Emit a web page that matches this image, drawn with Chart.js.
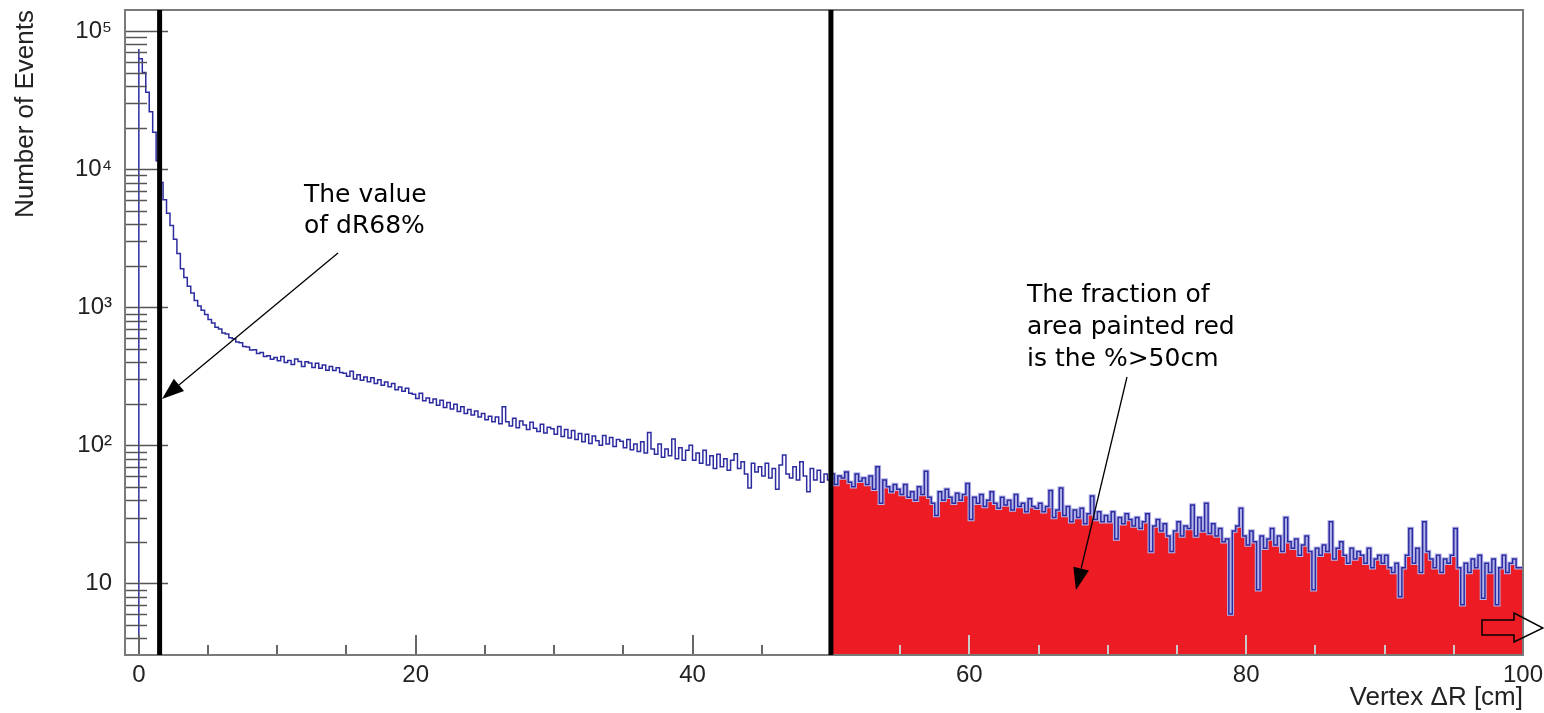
<!DOCTYPE html>
<html><head><meta charset="utf-8">
<script src="https://cdn.jsdelivr.net/npm/chart.js@4.4.1/dist/chart.umd.min.js"></script>
<style>html,body{margin:0;padding:0;background:#fff;}#wrap{width:1544px;height:713px;}</style>
</head><body><div id="wrap"><canvas id="c" width="1544" height="713"></canvas></div>
<script>
// ---- data ----
const binStart = 0;        // cm, low edge of first bin
const binWidth = 0.25;     // cm
const counts = [
 74000,63000,50000,36000,26000,18500,11500,8000,6000,4800,3900,3100,2450,1900,1640,1420,1270,1120,1020,950,
 885,815,770,715,695,650,640,600,592,560,552,520,515,490,492,462,470,440,445,420,
 432,410,440,398,412,385,422,404,372,402,394,366,392,362,382,350,372,348,364,336,
 333,316,344,302,324,296,312,288,308,280,298,272,287,266,280,252,264,246,259,238,
 234,218,238,210,220,203,216,195,212,188,204,183,198,176,190,170,182,166,177,160,
 170,153,162,148,160,143,190,148,138,157,134,150,140,130,147,133,126,142,123,135,
 132,120,137,116,130,113,128,110,122,106,120,103,117,108,100,118,102,114,98,110,
 107,96,110,93,102,90,106,88,124,94,86,102,82,94,84,111,80,96,78,92,
 100,78,88,74,92,72,84,68,86,70,80,66,78,87,68,76,62,49,74,64,
 70,60,74,58,68,48,72,85,62,58,70,56,76,60,46,68,56,66,54,62,
 56,62,52,60,58,64,54,50,62,55,58,52,60,48,70,38,56,50,46,52,
 48,44,52,42,46,40,50,44,65,42,38,31,46,40,48,42,38,45,40,44,
 53,29,42,38,44,36,40,46,38,35,42,37,40,34,44,36,38,33,41,36,
 35,38,33,36,47,30,34,49,31,36,28,34,30,35,27,32,43,29,33,28,
 31,28,33,21,30,27,32,29,26,30,25,28,32,17,26,29,24,27,22,17,
 24,28,22,26,25,37,22,30,24,38,23,27,22,25,20,21,6,24,26,35,
 22,19,24,20,9,22,18,21,25,19,22,17,30,20,18,21,16,19,22,17,
 9,18,16,19,17,28,15,18,20,16,14,18,15,17,16,14,18,13,15,16,
 14,16,13,12,14,8,13,16,25,14,18,12,28,17,15,13,16,12,15,14,
 16,25,13,7,14,12,15,13,16,7.8,14,12,15,7,13,16,12,14,15,13
];
const emptyLevel = 0.001;           // histogram rises from an empty level (below axis)
const xTickValues = [0,20,40,60,80,100];
const yTickValues = [10,100,1000,10000,100000];
const yTickLabels = ['10','10\u00B2','10\u00B3','10\u2074','10\u2075'];
const xRange = [-1, 100];
const yRange = [3.03, 142000];
const dR68 = 1.5;
const cutValue = 50;
const xTitle = 'Vertex \u0394R [cm]';
const yTitle = 'Number of Events';
const note1 = ['The value','of dR68%'];
const note2 = ['The fraction of','area painted red','is the %>50cm'];

// ---- build histogram points ----
const histPts = [{x: binStart, y: emptyLevel}];
counts.forEach((v,i)=>histPts.push({x: binStart + i*binWidth, y: v}));
histPts.push({x: binStart + counts.length*binWidth, y: counts[counts.length-1]});
const tailPts = histPts.filter(p => p.x >= cutValue && p.y > emptyLevel);

const FONT = '"Liberation Sans", Arial, Helvetica, sans-serif';
const NOTEFONT = '"Comic Sans MS", "DejaVu Sans", sans-serif';

const overlay = {
  id: 'overlay',
  afterDatasetsDraw(chart) {
    const ctx = chart.ctx, ca = chart.chartArea, xs = chart.scales.x, ys = chart.scales.y;
    ctx.save();
    // y ticks (inside frame)
    ctx.strokeStyle = '#555'; ctx.lineWidth = 1.5;
    for (let d = 0; d <= 5; d++) {
      for (let m = 1; m <= 9; m++) {
        const v = m * Math.pow(10, d);
        if (v < ys.min || v > ys.max) continue;
        const py = Math.round(ys.getPixelForValue(v)) + 0.5;
        const len = m === 1 ? 43 : 22;
        ctx.beginPath(); ctx.moveTo(ca.left, py); ctx.lineTo(ca.left + len, py); ctx.stroke();
      }
    }
    // x ticks (inside frame)
    ctx.lineWidth = 2;
    for (let v = 0; v <= 100; v += 5) {
      const px = Math.round(xs.getPixelForValue(v));
      const len = v % 20 === 0 ? 20 : 10;
      ctx.strokeStyle = v > cutValue ? '#c8c8c8' : '#666';
      ctx.beginPath(); ctx.moveTo(px, ca.bottom); ctx.lineTo(px, ca.bottom - len); ctx.stroke();
    }
    // frame
    ctx.strokeStyle = '#7a7a7a'; ctx.lineWidth = 2;
    ctx.strokeRect(ca.left, ca.top, ca.right - ca.left, ca.bottom - ca.top);
    // thick black vertical lines
    ctx.strokeStyle = '#000'; ctx.lineWidth = 5;
    [dR68, cutValue].forEach(v => {
      const px = xs.getPixelForValue(v);
      ctx.beginPath(); ctx.moveTo(px, ca.top); ctx.lineTo(px, ca.bottom); ctx.stroke();
    });
    // arrows
    function arrow(x1, y1, x2, y2) {
      const a = Math.atan2(y2 - y1, x2 - x1), L = 22, W = 8;
      const bx = x2 - L * Math.cos(a), by = y2 - L * Math.sin(a);
      ctx.strokeStyle = '#000'; ctx.lineWidth = 1.3;
      ctx.beginPath(); ctx.moveTo(x1, y1); ctx.lineTo(bx, by); ctx.stroke();
      ctx.fillStyle = '#000';
      ctx.beginPath(); ctx.moveTo(x2, y2);
      ctx.lineTo(bx + W * Math.sin(a), by - W * Math.cos(a));
      ctx.lineTo(bx - W * Math.sin(a), by + W * Math.cos(a));
      ctx.closePath(); ctx.fill();
    }
    arrow(338, 253, 162, 399);
    arrow(1127, 377, 1076, 590);
    // notes
    ctx.fillStyle = '#000'; ctx.font = '25px ' + NOTEFONT; ctx.textAlign = 'left'; ctx.textBaseline = 'alphabetic';
    note1.forEach((t, i) => ctx.fillText(t, 304, 202 + i * 31));
    note2.forEach((t, i) => ctx.fillText(t, 1027, 302 + i * 32));
    // hollow block arrow
    ctx.strokeStyle = '#000'; ctx.lineWidth = 1.5;
    ctx.beginPath();
    ctx.moveTo(1482, 620); ctx.lineTo(1514, 620); ctx.lineTo(1514, 613); ctx.lineTo(1543, 628);
    ctx.lineTo(1514, 642); ctx.lineTo(1514, 635); ctx.lineTo(1482, 635); ctx.closePath(); ctx.stroke();
    ctx.restore();
  }
};

function noPad(s) { s.paddingTop = 0; s.paddingBottom = 0; s.paddingLeft = 0; s.paddingRight = 0; }

new Chart(document.getElementById('c'), {
  type: 'line',
  data: {
    datasets: [
      { data: histPts, borderColor: '#2c2ca0', borderWidth: 1.5, stepped: 'after', fill: false, pointRadius: 0 },
      { data: tailPts, borderColor: '#b4b4e8', borderWidth: 3.5, stepped: 'after', fill: false, pointRadius: 0 },
      { data: tailPts, borderColor: 'rgba(0,0,0,0)', borderWidth: 0, backgroundColor: '#ED1C24', stepped: 'after', fill: 'start', pointRadius: 0 }
    ]
  },
  options: {
    responsive: false, animation: false, devicePixelRatio: 1,
    layout: { padding: { top: 10, right: 21, left: 0, bottom: 0 } },
    plugins: { legend: { display: false }, tooltip: { enabled: false } },
    elements: { line: { tension: 0 }, point: { radius: 0 } },
    scales: {
      x: {
        type: 'linear', min: xRange[0], max: xRange[1],
        afterBuildTicks: s => { s.ticks = xTickValues.map(v => ({ value: v })); },
        afterFit: s => { s.height = 58; noPad(s); },
        grid: { display: false, drawTicks: false }, border: { display: false },
        ticks: { font: { family: FONT, size: 24 }, color: '#222', padding: 6, maxRotation: 0, autoSkip: false, callback: v => String(v) },
        title: { display: true, text: xTitle, align: 'end', color: '#222', font: { family: FONT, size: 26 }, padding: { top: 0, bottom: 0 } }
      },
      y: {
        type: 'logarithmic', min: yRange[0], max: yRange[1],
        afterBuildTicks: s => { s.ticks = yTickValues.map(v => ({ value: v })); },
        afterFit: s => { s.width = 125; noPad(s); },
        grid: { display: false, drawTicks: false }, border: { display: false },
        ticks: { font: { family: FONT, size: 24 }, color: '#222', padding: 13, autoSkip: false, callback: (v, i) => yTickLabels[i] },
        title: { display: true, text: yTitle, align: 'end', color: '#222', font: { family: FONT, size: 26 }, padding: { top: 10, bottom: 0 } }
      }
    }
  },
  plugins: [overlay]
});
</script></body></html>
